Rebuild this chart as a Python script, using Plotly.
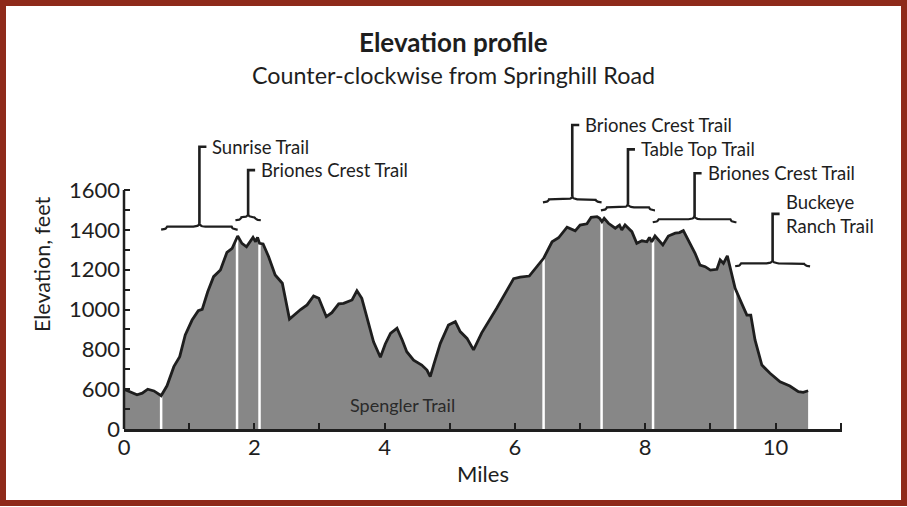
import numpy as np
import plotly.graph_objects as go

# ---------------- data ----------------
miles = [0.00, 0.10, 0.20, 0.28, 0.365, 0.46, 0.57, 0.66, 0.765, 0.855, 0.94, 1.045, 1.14, 1.20,
         1.285, 1.375, 1.48, 1.58, 1.66, 1.745, 1.81, 1.88, 1.98, 2.02, 2.05, 2.08, 2.135, 2.22,
         2.32, 2.43, 2.54, 2.71, 2.81, 2.91, 2.99, 3.105, 3.19, 3.295, 3.37, 3.50, 3.575, 3.65,
         3.755, 3.83, 3.935, 4.01, 4.09, 4.19, 4.27, 4.34, 4.445, 4.57, 4.65, 4.70, 4.76, 4.855,
         4.98, 5.085, 5.16, 5.265, 5.365, 5.49, 5.72, 5.98, 6.08, 6.22, 6.44, 6.57, 6.67, 6.80,
         6.925, 7.00, 7.105, 7.17, 7.26, 7.30, 7.335, 7.37, 7.435, 7.54, 7.605, 7.64, 7.69, 7.795,
         7.87, 7.95, 8.025, 8.065, 8.10, 8.15, 8.27, 8.355, 8.46, 8.525, 8.585, 8.66, 8.765, 8.84,
         8.92, 9.00, 9.10, 9.15, 9.20, 9.26, 9.30, 9.38, 9.48, 9.56, 9.62, 9.685, 9.79, 9.915,
         10.07, 10.22, 10.35, 10.425, 10.50]
elevation_ft = [600, 585, 572, 580, 600, 591, 567, 617, 713, 763, 872, 947, 994, 1001,
                1089, 1165, 1198, 1287, 1307, 1369, 1332, 1315, 1362, 1340, 1362, 1332, 1329, 1265,
                1173, 1132, 952, 1000, 1023, 1068, 1056, 964, 984, 1028, 1031, 1048, 1094, 1056,
                931, 838, 760, 827, 880, 906, 847, 788, 746, 721, 696, 663, 730, 830,
                922, 939, 889, 855, 797, 883, 1006, 1155, 1162, 1168, 1257, 1340, 1360, 1413,
                1395, 1424, 1430, 1463, 1466, 1458, 1441, 1458, 1433, 1408, 1424, 1399, 1424, 1391,
                1332, 1345, 1340, 1362, 1340, 1369, 1324, 1369, 1383, 1386, 1396, 1349, 1282, 1223,
                1215, 1198, 1202, 1249, 1232, 1269, 1215, 1106, 1031, 972, 972, 847, 721, 680,
                637, 616, 587, 584, 592]

segment_bounds = [0.57, 1.735, 2.08, 6.44, 7.33, 8.12, 9.38]

trail_labels = ["Sunrise Trail", "Briones Crest Trail", "Briones Crest Trail",
                "Table Top Trail", "Briones Crest Trail", "Buckeye<br>Ranch Trail"]
brace_start = [0.57, 1.71, 6.43, 7.32, 8.115, 9.38]
brace_end = [1.745, 2.10, 7.33, 8.15, 9.40, 10.53]
brace_level_ft = [1416, 1463, 1553, 1513, 1453, 1232]
label_level_ft = [1817, 1700, 1926, 1804, 1684, 1480]

bottom_label = "Spengler Trail"
bottom_label_pos = (4.27, 520)

x_tickvals = list(range(0, 12))
x_ticktext = ["0", "", "2", "", "4", "", "6", "", "8", "", "10", ""]
y_tickvals = list(range(400, 1700, 100))
y_ticktext = ["0", "", "600", "", "800", "", "1000", "", "1200", "", "1400", "", "1600"]

# ---------------- geometry ----------------
W, H = 907, 507
ML, MR, MT, MB = 124, 65, 100, 78
PW, PH = W - ML - MR, H - MT - MB
X_MAX = 11.02
Y_MIN = 400
PX_PER_FT = 0.19917
Y_MAX = Y_MIN + PH / PX_PER_FT
PX_PER_MI = PW / X_MAX

INK = "#1e1e1e"
FONT = "Lato"

fig = go.Figure()

# filled area
fig.add_trace(go.Scatter(x=miles, y=elevation_ft, mode="lines", fill="tozeroy",
                         fillcolor="#878787", line=dict(width=0, color="#878787"),
                         hoverinfo="skip", showlegend=False))

# white segment separators
for b in segment_bounds:
    top = float(np.interp(b, miles, elevation_ft))
    fig.add_trace(go.Scatter(x=[b, b], y=[0, top], mode="lines",
                             line=dict(color="white", width=2.5),
                             hoverinfo="skip", showlegend=False))

# profile line
fig.add_trace(go.Scatter(x=miles, y=elevation_ft, mode="lines",
                         line=dict(color=INK, width=2.8),
                         hoverinfo="skip", showlegend=False))


def brace_points(x0, x1, yb, d, e, n=10):
    xm = (x0 + x1) / 2
    th = np.linspace(0, np.pi / 2, n)
    xs = list(x0 + e * np.sin(th)); ys = list(yb - d * np.cos(th))
    xs += list(xm - e + e * np.sin(th)); ys += list(yb + d - d * np.cos(th))
    xs += list(xm + e - e * np.cos(th)); ys += list(yb + d - d * np.sin(th))
    xs += list(x1 - e * np.cos(th)); ys += list(yb - d * np.sin(th))
    return xs, ys, xm


d_ft = 3.0 / PX_PER_FT
e_mi = 6 / PX_PER_MI
hook_mi = 7 / PX_PER_MI
label_off_mi = 11 / PX_PER_MI
for x0, x1, yb, yl, txt in zip(brace_start, brace_end, brace_level_ft, label_level_ft, trail_labels):
    bx, by, xm = brace_points(x0, x1, yb, d_ft, e_mi)
    fig.add_trace(go.Scatter(x=bx, y=by, mode="lines",
                             line=dict(color=INK, width=2.2),
                             hoverinfo="skip", showlegend=False))
    fig.add_trace(go.Scatter(x=[xm, xm, xm + hook_mi], y=[yb + d_ft, yl, yl], mode="lines",
                             line=dict(color=INK, width=2.6),
                             hoverinfo="skip", showlegend=False))
    fig.add_annotation(x=xm + label_off_mi, y=yl, xref="x", yref="y", text=txt,
                       showarrow=False, xanchor="left", yanchor="middle", align="left",
                       font=dict(family=FONT, size=18.5, color=INK))

fig.add_annotation(x=bottom_label_pos[0], y=bottom_label_pos[1], xref="x", yref="y",
                   text=bottom_label, showarrow=False, xanchor="center", yanchor="middle",
                   font=dict(family=FONT, size=18, color="#2a2a2a"))

# titles
def py_to_paper(py):
    return (H - MB - py) / PH

def px_to_paper(px):
    return (px - ML) / PW

fig.add_annotation(x=px_to_paper(453), y=py_to_paper(42), xref="paper", yref="paper",
                   text="<b>Elevation profile</b>", showarrow=False,
                   xanchor="center", yanchor="middle",
                   font=dict(family=FONT, size=26, color=INK))
fig.add_annotation(x=px_to_paper(453), y=py_to_paper(75), xref="paper", yref="paper",
                   text="Counter-clockwise from Springhill Road", showarrow=False,
                   xanchor="center", yanchor="middle",
                   font=dict(family=FONT, size=23.3, color=INK))

# y axis line (only up to 1600)
fig.add_shape(type="line", xref="paper", yref="y", x0=0, x1=0, y0=Y_MIN, y1=1600,
              line=dict(color=INK, width=2.5))

# border frame
fig.add_shape(type="rect", xref="paper", yref="paper",
              x0=px_to_paper(3), x1=px_to_paper(904),
              y0=py_to_paper(503), y1=py_to_paper(3),
              line=dict(color="#8e2a1a", width=6))

fig.update_layout(
    width=W, height=H, autosize=False,
    margin=dict(l=ML, r=MR, t=MT, b=MB, pad=0),
    paper_bgcolor="white", plot_bgcolor="white",
    font=dict(family=FONT, color=INK),
    xaxis=dict(range=[0, X_MAX], showline=True, linecolor=INK, linewidth=2.5,
               ticks="inside", ticklen=6, tickwidth=2, tickcolor=INK,
               tickvals=x_tickvals, ticktext=x_ticktext, ticklabelstandoff=-3,
               tickfont=dict(family=FONT, size=22, color=INK),
               showgrid=False, zeroline=False,
               title=dict(text="Miles", font=dict(family=FONT, size=22, color=INK), standoff=0)),
    yaxis=dict(range=[Y_MIN, Y_MAX], showline=False,
               ticks="inside", ticklen=6, tickwidth=2, tickcolor=INK,
               tickvals=y_tickvals, ticktext=y_ticktext, ticklabelstandoff=3,
               tickfont=dict(family=FONT, size=22, color=INK),
               showgrid=False, zeroline=False,
               title=dict(text="Elevation, feet", font=dict(family=FONT, size=21.5, color=INK), standoff=12)),
)

fig.write_html("out.html", config={"displayModeBar": False},
               post_script="document.body.style.margin='0px';")
